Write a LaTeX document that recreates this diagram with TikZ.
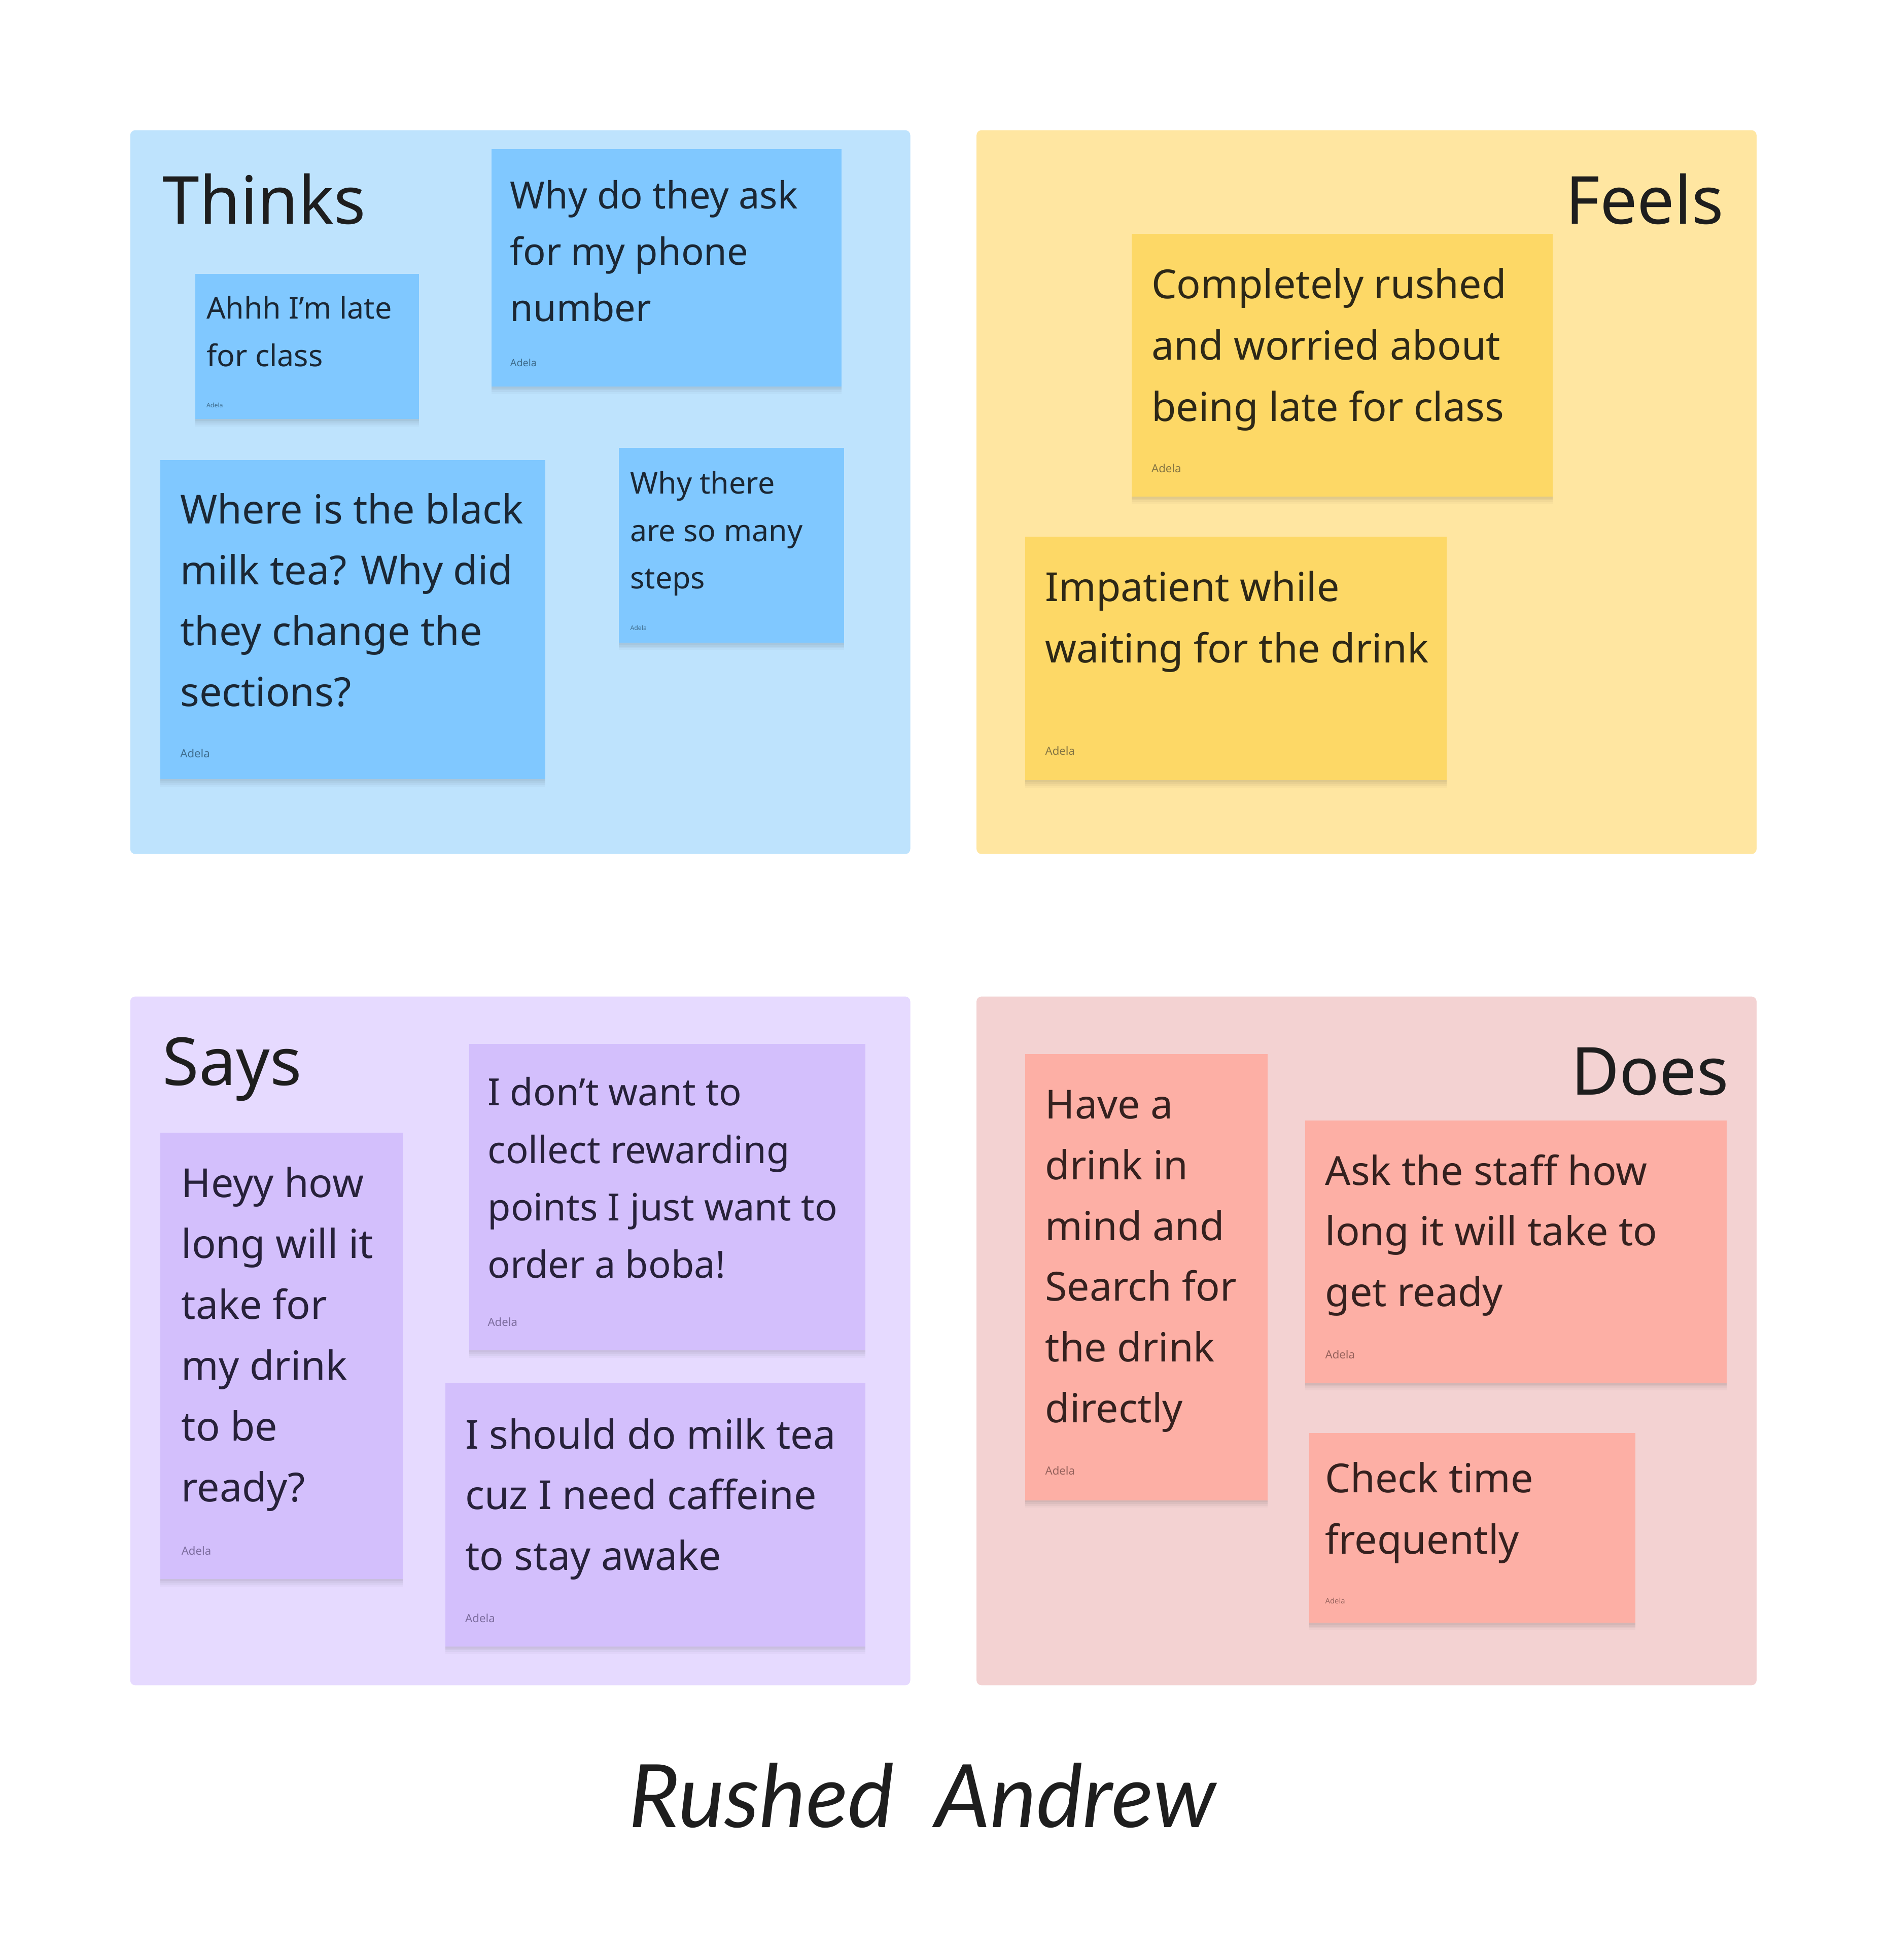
\documentclass[tikz,border=0pt]{standalone}
\usepackage{fontspec}
\setmainfont{Noto Sans}
\newfontfamily\handfont{Lato}
\definecolor{thinksbg}{HTML}{BEE3FD}
\definecolor{thinksst}{HTML}{80C8FF}
\definecolor{feelsbg}{HTML}{FFE6A1}
\definecolor{feelsst}{HTML}{FDD866}
\definecolor{saysbg}{HTML}{E6DAFF}
\definecolor{saysst}{HTML}{D3BFFC}
\definecolor{doesbg}{HTML}{F3D2D2}
\definecolor{doesst}{HTML}{FDAFA5}
\definecolor{titlecol}{HTML}{1E1E1E}
\definecolor{bluetxt}{HTML}{1B2734}
\definecolor{yeltxt}{HTML}{2D2817}
\definecolor{purtxt}{HTML}{27213A}
\definecolor{pinktxt}{HTML}{35211F}
\definecolor{blueadl}{HTML}{3F6D8E}
\definecolor{yeladl}{HTML}{857543}
\definecolor{puradl}{HTML}{7C6C9E}
\definecolor{pinkadl}{HTML}{97625C}
\tikzset{
  panel/.style={rounded corners=4pt, draw=none, anchor=north west, inner sep=0pt},
  stickybox/.style={draw=none, anchor=north west, inner sep=0pt,
    preaction={fill=black, fill opacity=0.035, transform canvas={yshift=-1.5pt}},
    preaction={fill=black, fill opacity=0.035, transform canvas={yshift=-3pt}},
    preaction={fill=black, fill opacity=0.03, transform canvas={yshift=-4.5pt}},
    preaction={fill=black, fill opacity=0.025, transform canvas={yshift=-6pt}}},
  title/.style={inner sep=0pt, text=titlecol, font=\fontsize{53}{58}\selectfont},
  stext/.style={inner sep=0pt, anchor=base west},
  adela/.style={inner sep=0pt, anchor=base west},
}
\begin{document}
\begin{tikzpicture}[x=1pt,y=-1pt]
\useasboundingbox (0,0) rectangle (1510,1568);
\fill[white] (0,0) rectangle (1510,1568);
% panels
\node[panel, fill=thinksbg, minimum width=624pt, minimum height=579pt] (pthinks) at (104,104) {};
\node[panel, fill=feelsbg, minimum width=624pt, minimum height=579pt] (pfeels) at (781,104) {};
\node[panel, fill=saysbg, minimum width=624pt, minimum height=551pt] (psays) at (104,797) {};
\node[panel, fill=doesbg, minimum width=624pt, minimum height=551pt] (pdoes) at (781,797) {};
% titles
\node[title, anchor=base west] (tthinks) at (130,179) {Thinks};
\node[title, anchor=base east] (tfeels) at (1379,179) {Feels};
\node[title, anchor=base west] (tsays) at (130,868) {Says};
\node[title, anchor=base east] (tdoes) at (1383,876) {Does};
% ---------- Thinks stickies
\node[stickybox, fill=thinksst, minimum width=179pt, minimum height=116pt] (s1) at (156,219) {};
\node[stext, text=bluetxt] (s1t) at (165,255) {\parbox[t]{170pt}{\fontsize{24}{38}\selectfont Ahhh I’m late\\for class}};
\node[adela, text=blueadl, font=\fontsize{5}{6}\selectfont] (s1a) at (165,326) {Adela};

\node[stickybox, fill=thinksst, minimum width=280pt, minimum height=190pt] (s2) at (393,119) {};
\node[stext, text=bluetxt] (s2t) at (408,167) {\parbox[t]{270pt}{\fontsize{30}{45}\selectfont Why do they ask\\for my phone\\number}};
\node[adela, text=blueadl, font=\fontsize{8}{9}\selectfont] (s2a) at (408,293) {Adela};

\node[stickybox, fill=thinksst, minimum width=308pt, minimum height=255pt] (s3) at (128,368) {};
\node[stext, text=bluetxt] (s3t) at (144,419) {\parbox[t]{300pt}{\fontsize{32}{48.7}\selectfont Where is the black\\milk tea? Why did\\they change the\\sections?}};
\node[adela, text=blueadl, font=\fontsize{9}{10}\selectfont] (s3a) at (144,606) {Adela};

\node[stickybox, fill=thinksst, minimum width=180pt, minimum height=156pt] (s4) at (495,358) {};
\node[stext, text=bluetxt] (s4t) at (504,395) {\parbox[t]{170pt}{\fontsize{24}{38}\selectfont Why there\\are so many\\steps}};
\node[adela, text=blueadl, font=\fontsize{5}{6}\selectfont] (s4a) at (504,504) {Adela};
% ---------- Feels stickies
\node[stickybox, fill=feelsst, minimum width=337pt, minimum height=210pt] (s5) at (905,187) {};
\node[stext, text=yeltxt] (s5t) at (921,239) {\parbox[t]{330pt}{\fontsize{32}{49}\selectfont Completely rushed\\and worried about\\being late for class}};
\node[adela, text=yeladl, font=\fontsize{9}{10}\selectfont] (s5a) at (921,378) {Adela};

\node[stickybox, fill=feelsst, minimum width=337pt, minimum height=195pt] (s6) at (820,429) {};
\node[stext, text=yeltxt] (s6t) at (836,481) {\parbox[t]{330pt}{\fontsize{32}{49}\selectfont Impatient while\\waiting for the drink}};
\node[adela, text=yeladl, font=\fontsize{9}{10}\selectfont] (s6a) at (836,604) {Adela};
% ---------- Says stickies
\node[stickybox, fill=saysst, minimum width=194pt, minimum height=357pt] (s7) at (128,906) {};
\node[stext, text=purtxt] (s7t) at (145,958) {\parbox[t]{190pt}{\fontsize{32}{48.7}\selectfont Heyy how\\long will it\\take for\\my drink\\to be\\ready?}};
\node[adela, text=puradl, font=\fontsize{9}{10}\selectfont] (s7a) at (145,1244) {Adela};

\node[stickybox, fill=saysst, minimum width=317pt, minimum height=245pt] (s8) at (375,835) {};
\node[stext, text=purtxt] (s8t) at (390,884.5) {\parbox[t]{310pt}{\fontsize{30}{46}\selectfont I don’t want to\\collect rewarding\\points I just want to\\order a boba!}};
\node[adela, text=puradl, font=\fontsize{9}{10}\selectfont] (s8a) at (390,1061) {Adela};

\node[stickybox, fill=saysst, minimum width=336pt, minimum height=211pt] (s9) at (356,1106) {};
\node[stext, text=purtxt] (s9t) at (372,1159) {\parbox[t]{330pt}{\fontsize{32}{48.5}\selectfont I should do milk tea\\cuz I need caffeine\\to stay awake}};
\node[adela, text=puradl, font=\fontsize{9}{10}\selectfont] (s9a) at (372,1298) {Adela};
% ---------- Does stickies
\node[stickybox, fill=doesst, minimum width=194pt, minimum height=357pt] (s10) at (820,843) {};
\node[stext, text=pinktxt] (s10t) at (836,895) {\parbox[t]{190pt}{\fontsize{32}{48.6}\selectfont Have a\\drink in\\mind and\\Search for\\the drink\\directly}};
\node[adela, text=pinkadl, font=\fontsize{9}{10}\selectfont] (s10a) at (836,1180) {Adela};

\node[stickybox, fill=doesst, minimum width=337pt, minimum height=210pt] (s11) at (1044,896) {};
\node[stext, text=pinktxt] (s11t) at (1060,948) {\parbox[t]{330pt}{\fontsize{32}{48.5}\selectfont Ask the staff how\\long it will take to\\get ready}};
\node[adela, text=pinkadl, font=\fontsize{9}{10}\selectfont] (s11a) at (1060,1087) {Adela};

\node[stickybox, fill=doesst, minimum width=261pt, minimum height=152pt] (s12) at (1047,1146) {};
\node[stext, text=pinktxt] (s12t) at (1060,1194) {\parbox[t]{250pt}{\fontsize{32}{49}\selectfont Check time\\frequently}};
\node[adela, text=pinkadl, font=\fontsize{6}{7}\selectfont] (s12a) at (1060,1283) {Adela};
% ---------- name
\node[inner sep=0pt, anchor=base, text=titlecol, font=\handfont\itshape\fontsize{70}{70}\selectfont] (name) at (738,1462) {Rushed\ \ Andrew};
\end{tikzpicture}
\end{document}
